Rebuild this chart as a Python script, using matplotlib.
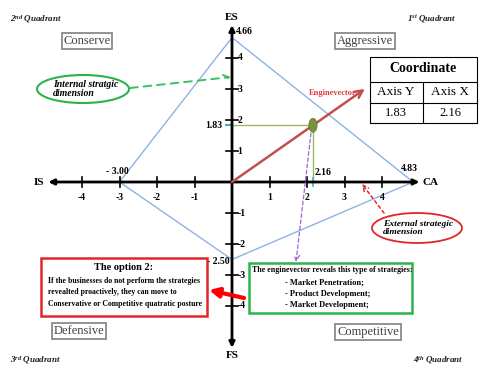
import matplotlib
matplotlib.use("Agg")
import matplotlib.pyplot as plt
from matplotlib.patches import Ellipse, Rectangle, Polygon

plt.rcParams['font.family'] = ['Liberation Serif', 'DejaVu Serif']
plt.rcParams['mathtext.fontset'] = 'custom'
plt.rcParams['mathtext.it'] = 'Liberation Serif:italic:bold'
plt.rcParams['mathtext.rm'] = 'Liberation Serif:italic:bold'

# data
vertex_x = [0, 4.83, 0, -3.00]
vertex_y = [4.66, 0, -2.50, 0]
tick_vals = [-4, -3, -2, -1, 1, 2, 3, 4]
coord_x = 2.16
coord_y = 1.83
vector_len = 1.64   # how far the enginevector arrow runs past the point
quadrants = ['Aggressive', 'Conserve', 'Defensive', 'Competitive']
strategies = ['Market Penetration;', 'Product Development;', 'Market Development;']

fig = plt.figure(figsize=(4.8, 3.75), dpi=100)
ax = fig.add_axes([0, 0, 1, 1])
ax.set_xlim(-232 / 37.5, 248 / 37.5)
ax.set_ylim(-193 / 31, 182 / 31)
ax.axis('off')

# overlay in pixel units for boxes and notes
ov = fig.add_axes([0, 0, 1, 1], facecolor='none')
ov.set_xlim(0, 480)
ov.set_ylim(375, 0)
ov.axis('off')

# diamond
ax.add_patch(Polygon(list(zip(vertex_x, vertex_y)), closed=True, fill=False,
                     ec='#8DB3E2', lw=1))

# axes with arrows
ax.annotate('', xy=(5.0, 0), xytext=(-4.9, 0),
            arrowprops=dict(arrowstyle='<|-|>', lw=2, color='black', mutation_scale=8,
                            shrinkA=0, shrinkB=0))
ax.annotate('', xy=(0, 5.06), xytext=(0, -5.35),
            arrowprops=dict(arrowstyle='<|-|>', lw=2, color='black', mutation_scale=8,
                            shrinkA=0, shrinkB=0))
bold = dict(fontweight='bold', fontsize=7)
for t in tick_vals:
    ax.plot([t, t], [-0.15, 0.15], color='black', lw=1.2)
    ax.text(t, -0.5, str(t), ha='center', va='center', **bold)
    ax.plot([-0.17, 0.17], [t, t], color='black', lw=1.2)
    ax.text(0.15, t, str(t), ha='left', va='center', **bold)

ax.text(-5.0, 0, 'IS', ha='right', va='center', fontweight='bold', fontsize=8)
ax.text(5.08, 0, 'CA', ha='left', va='center', fontweight='bold', fontsize=8)
ax.text(0, 5.15, 'ES', ha='center', va='bottom', fontweight='bold', fontsize=8)
ax.text(0, -5.45, 'FS', ha='center', va='top', fontweight='bold', fontsize=8)

# vertex values
ax.text(vertex_x[0] + 0.1, vertex_y[0] + 0.2, f'{vertex_y[0]:.2f}', ha='left', va='center', **bold)
ax.text(vertex_x[1] - 0.1, vertex_y[1] + 0.45, f'{vertex_x[1]:.2f}', ha='center', va='center', **bold)
ax.text(vertex_x[2] - 0.07, vertex_y[2] - 0.05, f'- {abs(vertex_y[2]):.2f}', ha='right', va='center', **bold)
ax.text(vertex_x[3] - 0.05, vertex_y[3] + 0.35, f'- {abs(vertex_x[3]):.2f}', ha='center', va='center', **bold)

# coordinate guides
ax.plot([0, coord_x], [coord_y, coord_y], color='#9BBB59', lw=1)
ax.plot([coord_x, coord_x], [coord_y, 0], color='#9BBB59', lw=1)
ax.plot([-0.15, 0], [coord_y, coord_y], color='#4BACC6', lw=1.5)
ax.plot([coord_x, coord_x], [-0.12, 0.12], color='#4BACC6', lw=1.2)
ax.text(-0.25, coord_y, f'{coord_y:.2f}', ha='right', va='center', **bold)
ax.text(coord_x + 0.05, 0.3, f'{coord_x:.2f}', ha='left', va='center', **bold)

# enginevector
ax.annotate('', xy=(coord_x * vector_len, coord_y * vector_len), xytext=(0, 0),
            arrowprops=dict(arrowstyle='->', lw=1.8, color='#C0504D', mutation_scale=13,
                            shrinkA=0, shrinkB=0))
ax.add_patch(Ellipse((coord_x, coord_y), 0.22, 0.45, fc='#77933C', ec='#5E7A2E', lw=0.5, zorder=5))
ov.text(333, 93, 'Enginevector', color='#E0393E', fontweight='bold', fontsize=6,
        ha='center', va='center')

# coordinate table
ov.add_patch(Rectangle((370, 57), 107, 66, fill=False, ec='black', lw=0.8))
ov.plot([370, 477], [82, 82], color='black', lw=0.8)
ov.plot([370, 477], [103, 103], color='black', lw=0.8)
ov.plot([423, 423], [82, 123], color='black', lw=0.8)
ov.text(423, 69, 'Coordinate', ha='center', va='center', fontweight='bold', fontsize=10)
ov.text(396, 92, 'Axis Y', ha='center', va='center', fontsize=9.5)
ov.text(450, 92, 'Axis X', ha='center', va='center', fontsize=9.5)
ov.text(396, 113, f'{coord_y:.2f}', ha='center', va='center', fontsize=9)
ov.text(450, 113, f'{coord_x:.2f}', ha='center', va='center', fontsize=9)

# quadrant posture boxes
box_pos = [(365, 41), (87, 41), (79, 331), (368, 332)]
for name, (bx, by) in zip(quadrants, box_pos):
    ov.text(bx, by, name, ha='center', va='center', fontsize=9, color='#404040',
            bbox=dict(boxstyle='square,pad=0.15', fc='white', ec='#808080', lw=1.2))

# quadrant labels
qlab = [(10, 19, '2$^{nd}$ Quadrant'), (407, 19, '1$^{st}$ Quadrant'),
        (10, 360, '3$^{rd}$ Quadrant'), (413, 360, '4$^{th}$ Quadrant')]
for qx, qy, s in qlab:
    ov.text(qx, qy, s, ha='left', va='center', fontsize=6.5, fontstyle='italic',
            fontweight='bold', color='#202020')

# internal dimension ellipse
ov.add_patch(Ellipse((83, 89), 92, 28, fill=False, ec='#2DB34A', lw=1.5))
ov.text(53, 89, 'Internal stratgic\ndimension', ha='left', va='center', fontsize=7,
        fontstyle='italic', fontweight='bold', linespacing=1.05)
ov.annotate('', xy=(231, 77), xytext=(130, 88),
            arrowprops=dict(arrowstyle='->', lw=1.4, color='#3CC062', ls=(0, (4, 3)),
                            shrinkA=0, shrinkB=0))

# external dimension ellipse
ov.add_patch(Ellipse((417, 228), 90, 30, fill=False, ec='#E0262B', lw=1.3))
ov.text(383, 228, 'External strategic\ndimension', ha='left', va='center', fontsize=6.8,
        fontstyle='italic', fontweight='bold', linespacing=1.05)
ov.annotate('', xy=(362, 184), xytext=(384, 213),
            arrowprops=dict(arrowstyle='->', lw=1.1, color='#E0262B', ls=(0, (2, 2)),
                            shrinkA=0, shrinkB=0))

# purple dashed pointer
ov.annotate('', xy=(296, 262), xytext=(311, 133),
            arrowprops=dict(arrowstyle='->', lw=0.9, color='#A066D3', ls=(0, (3, 2)),
                            shrinkA=0, shrinkB=0))

# option 2 box
ov.add_patch(Rectangle((41, 258), 166, 58, fill=False, ec='#E0262B', lw=1.8))
ov.text(124, 267, 'The option 2:', ha='center', va='center', fontweight='bold', fontsize=7.5)
opt_lines = ['If the businesses do not perform the strategies',
             'revealted proactively, they can move to',
             'Conservative or Competitive quatratic posture']
for i, s in enumerate(opt_lines):
    ov.text(48, 281 + i * 11.5, s, ha='left', va='center', fontweight='bold', fontsize=5.6)
ov.annotate('', xy=(209, 290), xytext=(244, 298),
            arrowprops=dict(arrowstyle='-|>', lw=3, color='#FF0000', mutation_scale=14,
                            shrinkA=0, shrinkB=0))

# enginevector strategies box
ov.add_patch(Rectangle((249, 263), 163, 50, fill=False, ec='#2DB34A', lw=1.8))
ov.text(252, 270, 'The enginevector reveals this type of strategies:', ha='left', va='center',
        fontweight='bold', fontsize=5.7)
for i, s in enumerate(strategies):
    ov.text(285, 283 + i * 11, '- ' + s, ha='left', va='center', fontweight='bold', fontsize=6)

fig.savefig('out.png', dpi=100)
